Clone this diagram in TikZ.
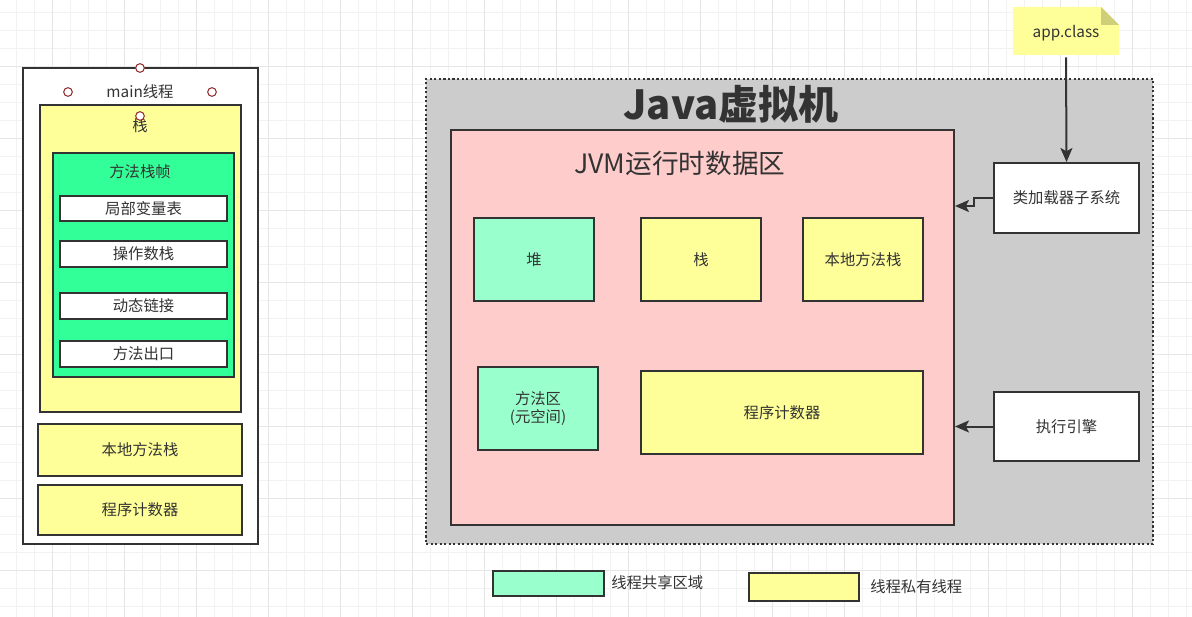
\documentclass[tikz,border=0pt]{standalone}
\usepackage{fontspec}
\setmainfont{Noto Sans CJK SC}
\usetikzlibrary{fit,arrows.meta}
\definecolor{dk}{HTML}{333333}
\definecolor{yel}{HTML}{FFFF99}
\definecolor{grn}{HTML}{33FF99}
\definecolor{mint}{HTML}{99FFCC}
\definecolor{pnk}{HTML}{FFCCCC}
\definecolor{gry}{HTML}{CCCCCC}
\definecolor{fold}{HTML}{CFCF7A}
\definecolor{cred}{HTML}{993333}
\definecolor{gmin}{HTML}{F2F2F2}
\definecolor{gmaj}{HTML}{E6E6E6}
\begin{document}
\begin{tikzpicture}[x=0.75pt,y=-0.75pt,
  txt/.style={text=dk, font=\fontsize{11.5}{14}\selectfont, inner sep=0pt, align=center},
  box/.style={draw=dk, line width=1.5pt, inner sep=0pt},
  inlabel/.style={label={[txt]center:{#1}}},
  ybox/.style={box, fill=yel},
  gbox/.style={box, fill=grn},
  mbox/.style={box, fill=mint},
  wbox/.style={box, fill=white},
  gridminor/.style={gmin, line width=0.75pt},
  gridmajor/.style={gmaj, line width=0.75pt},
  conn/.style={dk, line width=1.5pt, -{Stealth[length=10.5pt,width=9pt,inset=2.4pt]}},
  port/.style={draw=cred, line width=0.8pt, fill=white, circle, inner sep=0pt, minimum size=6.5pt}
]
\useasboundingbox (0,0) rectangle (1192,617);
\fill[white] (0,0) rectangle (1192,617);
\begin{scope}
\clip (0,0) rectangle (1192,617);
\foreach \i in {0,...,67} {\draw[gridminor] ({-1.3+18*\i},0) -- ++(0,617);}
\foreach \i in {0,...,35} {\draw[gridminor] (0,{-5.3+18*\i}) -- ++(1192,0);}
\foreach \i in {0,...,16} {\draw[gridmajor] ({52.7+72*\i},0) -- ++(0,617);}
\foreach \i in {0,...,9} {\draw[gridmajor] (0,{-5.3+72*\i}) -- ++(1192,0);}
\end{scope}

% ---------- left: main thread ----------
\node[wbox, fit={(23,68) (258,544)}] (mainbox) {};
\node[txt] (maintxt) at (140,92) {main线程};
\node[ybox, fit={(40,105) (241,412)}] (stackbox) {};
\node[txt] (stacktxt) at (140,126) {栈};
\node[gbox, fit={(53,153) (234,377)}] (frame) {};
\node[txt] (frametxt) at (140,172) {方法栈帧};
\node[wbox, fit={(60,196) (227,221)}, inlabel=局部变量表] (locals) {};
\node[wbox, fit={(60,241) (227,267)}, inlabel=操作数栈] (opstack) {};
\node[wbox, fit={(60,293) (227,319)}, inlabel=动态链接] (dynlink) {};
\node[wbox, fit={(60,341) (227,367)}, inlabel=方法出口] (retaddr) {};
\node[ybox, fit={(38,424) (242,476)}, inlabel=本地方法栈] (lnative) {};
\node[ybox, fit={(38,485) (242,535)}, inlabel=程序计数器] (lpc) {};
\node[port] (p1) at (140,68) {};
\node[port] (p2) at (68,92) {};
\node[port] (p3) at (212,92) {};
\node[port] (p4) at (140,116) {};

% ---------- right: JVM ----------
\node[fill=gry, draw=dk, line width=1.5pt, dash pattern=on 1.6pt off 1.8pt, inner sep=0pt, fit={(426,79) (1153,544)}] (jvm) {};
\node[text=dk, inner sep=0pt, font=\fontsize{30}{36}\selectfont\bfseries] (jvmtxt) at (731,104) {Java虚拟机};
\node[box, fill=pnk, fit={(451,130) (954,525)}] (rt) {};
\node[text=dk, inner sep=0pt, font=\fontsize{20}{24}\selectfont] (rttxt) at (680,163) {JVM运行时数据区};
\node[mbox, fit={(474,218) (594,301)}, inlabel=堆] (heap) {};
\node[ybox, fit={(641,218) (761,301)}, inlabel=栈] (rstack) {};
\node[ybox, fit={(803,218) (923,301)}, inlabel=本地方法栈] (rnative) {};
\node[mbox, fit={(478,367) (598,450)}, inlabel={方法区\\(元空间)}] (method) {};
\node[ybox, fit={(641,371) (923,454)}, inlabel=程序计数器] (rpc) {};
\node[wbox, fit={(994,163) (1139,233)}, inlabel=类加载器子系统] (loader) {};
\node[wbox, fit={(994,392) (1139,461)}, inlabel=执行引擎] (engine) {};

% app.class note
\fill[yel] (1013,7) -- (1101,7) -- (1119,25) -- (1119,55) -- (1013,55) -- cycle;
\fill[fold] (1101,7) -- (1119,25) -- (1101,25) -- cycle;
\node[inner sep=0pt, fit={(1013,9) (1119,57)}, inlabel=app.class] (app) {};

% connectors
\draw[conn] (app.south) -- (loader.north);
\coordinate (b1) at (974,198);
\coordinate (b2) at (974,206);
\draw[conn] (loader.west) -- (b1) -- (b2) -- (rt.east |- b2);
\draw[conn] (engine.west) -- (rt.east |- engine.west);

% legend
\node[mbox, fit={(493,571) (604,596)}] (lg1) {};
\node[txt, anchor=west] (lg1t) at (611,583) {线程共享区域};
\node[ybox, fit={(749,573) (859,601)}] (lg2) {};
\node[txt, anchor=west] (lg2t) at (870,587) {线程私有线程};
\end{tikzpicture}
\end{document}
